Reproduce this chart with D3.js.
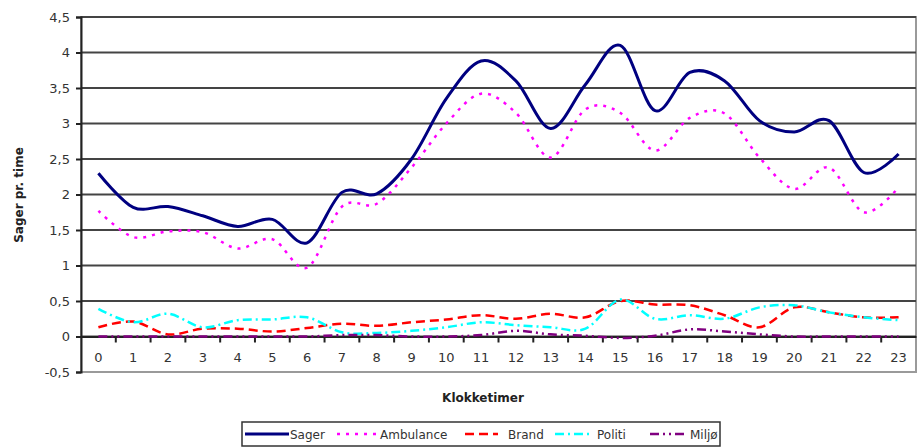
<!DOCTYPE html>
<html>
<head>
	<meta charset='utf-8'>
	<script src="https://cdnjs.cloudflare.com/ajax/libs/d3/7.8.5/d3.min.js"></script>
	<style>
	body { margin:0; background:#fff; font-family:'DejaVu Sans', sans-serif; }
	svg text { font-family:'DejaVu Sans', sans-serif; }
	</style>
</head>
<body>
<script>

var hours = d3.range(0, 24);
var yTicks = [-0.5, 0, 0.5, 1, 1.5, 2, 2.5, 3, 3.5, 4, 4.5];

var sager     = [2.3, 1.82, 1.83, 1.7, 1.55, 1.65, 1.32, 2.03, 2.01, 2.5, 3.35, 3.88, 3.6, 2.93, 3.55, 4.1, 3.18, 3.72, 3.6, 3.04, 2.88, 3.04, 2.31, 2.57];
var ambulance = [1.77, 1.4, 1.48, 1.47, 1.24, 1.37, 0.97, 1.83, 1.87, 2.38, 3.0, 3.42, 3.15, 2.52, 3.2, 3.15, 2.62, 3.08, 3.14, 2.52, 2.08, 2.38, 1.75, 2.1];
var brand     = [0.13, 0.21, 0.03, 0.11, 0.11, 0.07, 0.12, 0.18, 0.15, 0.2, 0.24, 0.3, 0.25, 0.32, 0.27, 0.5, 0.45, 0.44, 0.3, 0.13, 0.41, 0.34, 0.27, 0.27];
var politi    = [0.39, 0.2, 0.32, 0.13, 0.23, 0.24, 0.27, 0.06, 0.05, 0.08, 0.13, 0.2, 0.16, 0.13, 0.11, 0.52, 0.25, 0.3, 0.25, 0.41, 0.44, 0.34, 0.27, 0.23];
var miljo     = [0, 0, 0, 0, 0, 0, 0, 0.02, 0.02, 0, 0, 0.02, 0.08, 0.03, 0.01, -0.02, 0.01, 0.1, 0.07, 0.03, 0, 0, 0, 0];

var seriesNames = ['Sager', 'Ambulance', 'Brand', 'Politi', 'Miljø'];
var seriesData = [sager, ambulance, brand, politi, miljo];
var seriesColor = ['#000080', '#ff00ff', '#ff0000', '#00ffff', '#800080'];
var seriesDash = ['none', '3,6', '9,5', '9,4,2,4', '9,4,2,4,2,4'];
var seriesWidth = [3, 2.5, 2.5, 2.5, 2.5];

var canvasWidth = 919, canvasHeight = 448;
var plot = { left:81, right:916, top:17, bottom:372 };

var svg = d3.select('body').append('svg').attr('width', canvasWidth).attr('height', canvasHeight);

var x = d3.scaleBand().domain(hours).range([plot.left, plot.right]);
var y = d3.scaleLinear().domain([-0.5, 4.5]).range([plot.bottom, plot.top]);

// plot frame
svg.append('rect').attr('x', plot.left).attr('y', plot.top)
	.attr('width', plot.right - plot.left).attr('height', plot.bottom - plot.top)
	.attr('fill', 'none').attr('stroke', '#9a9a9a').attr('stroke-width', 2);

// gridlines
svg.append('g').selectAll('line').data(yTicks.filter(function (d) { return d > -0.5; })).enter().append('line')
	.attr('x1', plot.left).attr('x2', plot.right)
	.attr('y1', function (d) { return y(d); }).attr('y2', function (d) { return y(d); })
	.attr('stroke', '#444').attr('stroke-width', 2);

// y axis
var yAxis = d3.axisLeft(y).tickValues(yTicks).tickSize(5).tickPadding(6)
	.tickFormat(function (d) { return String(d).replace('.', ','); });
var gy = svg.append('g').attr('transform', 'translate(' + plot.left + ',0)').call(yAxis);
gy.select('.domain').attr('stroke', '#222').attr('stroke-width', 2);
gy.selectAll('.tick line').attr('stroke', '#222').attr('stroke-width', 2);
gy.selectAll('text').attr('font-size', 13).attr('fill', '#333');

// x axis at zero
var xAxis = d3.axisBottom(x).tickSize(0).tickPadding(16);
var gx = svg.append('g').attr('transform', 'translate(0,' + y(0) + ')').call(xAxis);
gx.select('.domain').attr('stroke', '#222').attr('stroke-width', 2);
gx.selectAll('text').attr('font-size', 13).attr('fill', '#333');
gx.selectAll('.bound').data(hours.slice(1)).enter().append('line')
	.attr('x1', function (d) { return x(d); }).attr('x2', function (d) { return x(d); })
	.attr('y1', 0).attr('y2', 6).attr('stroke', '#222').attr('stroke-width', 2);

// lines
var line = d3.line()
	.x(function (d, i) { return x(hours[i]) + x.bandwidth() / 2; })
	.y(function (d) { return y(d); })
	.curve(d3.curveCatmullRom.alpha(0));

svg.append('g').selectAll('path').data(seriesData).enter().append('path')
	.attr('d', function (d) { return line(d); })
	.attr('fill', 'none')
	.attr('stroke', function (d, i) { return seriesColor[i]; })
	.attr('stroke-width', function (d, i) { return seriesWidth[i]; })
	.attr('stroke-dasharray', function (d, i) { return seriesDash[i]; });

// titles
svg.append('text').attr('x', 483).attr('y', 402).attr('text-anchor', 'middle')
	.attr('font-size', 12).attr('font-weight', 'bold').attr('fill', '#222').text('Klokketimer');
svg.append('text').attr('transform', 'translate(23,195) rotate(-90)').attr('text-anchor', 'middle')
	.attr('font-size', 12).attr('font-weight', 'bold').attr('fill', '#222').text('Sager pr. time');

// legend
var legend = svg.append('g');
legend.append('rect').attr('x', 242).attr('y', 422).attr('width', 478).attr('height', 24)
	.attr('fill', '#fff').attr('stroke', '#333').attr('stroke-width', 1.5);
var legendPos = [[245, 289, 290], [337, 379, 380], [465, 498, 508], [555, 590, 597], [650, 684, 690]];
seriesNames.forEach(function (name, i) {
	var p = legendPos[i];
	legend.append('line').attr('x1', p[0]).attr('x2', p[1]).attr('y1', 434).attr('y2', 434)
		.attr('stroke', seriesColor[i]).attr('stroke-width', seriesWidth[i])
		.attr('stroke-dasharray', seriesDash[i]);
	legend.append('text').attr('x', p[2]).attr('y', 439).attr('font-size', 12)
		.attr('fill', '#333').text(name);
});

</script>
</body>
</html>
